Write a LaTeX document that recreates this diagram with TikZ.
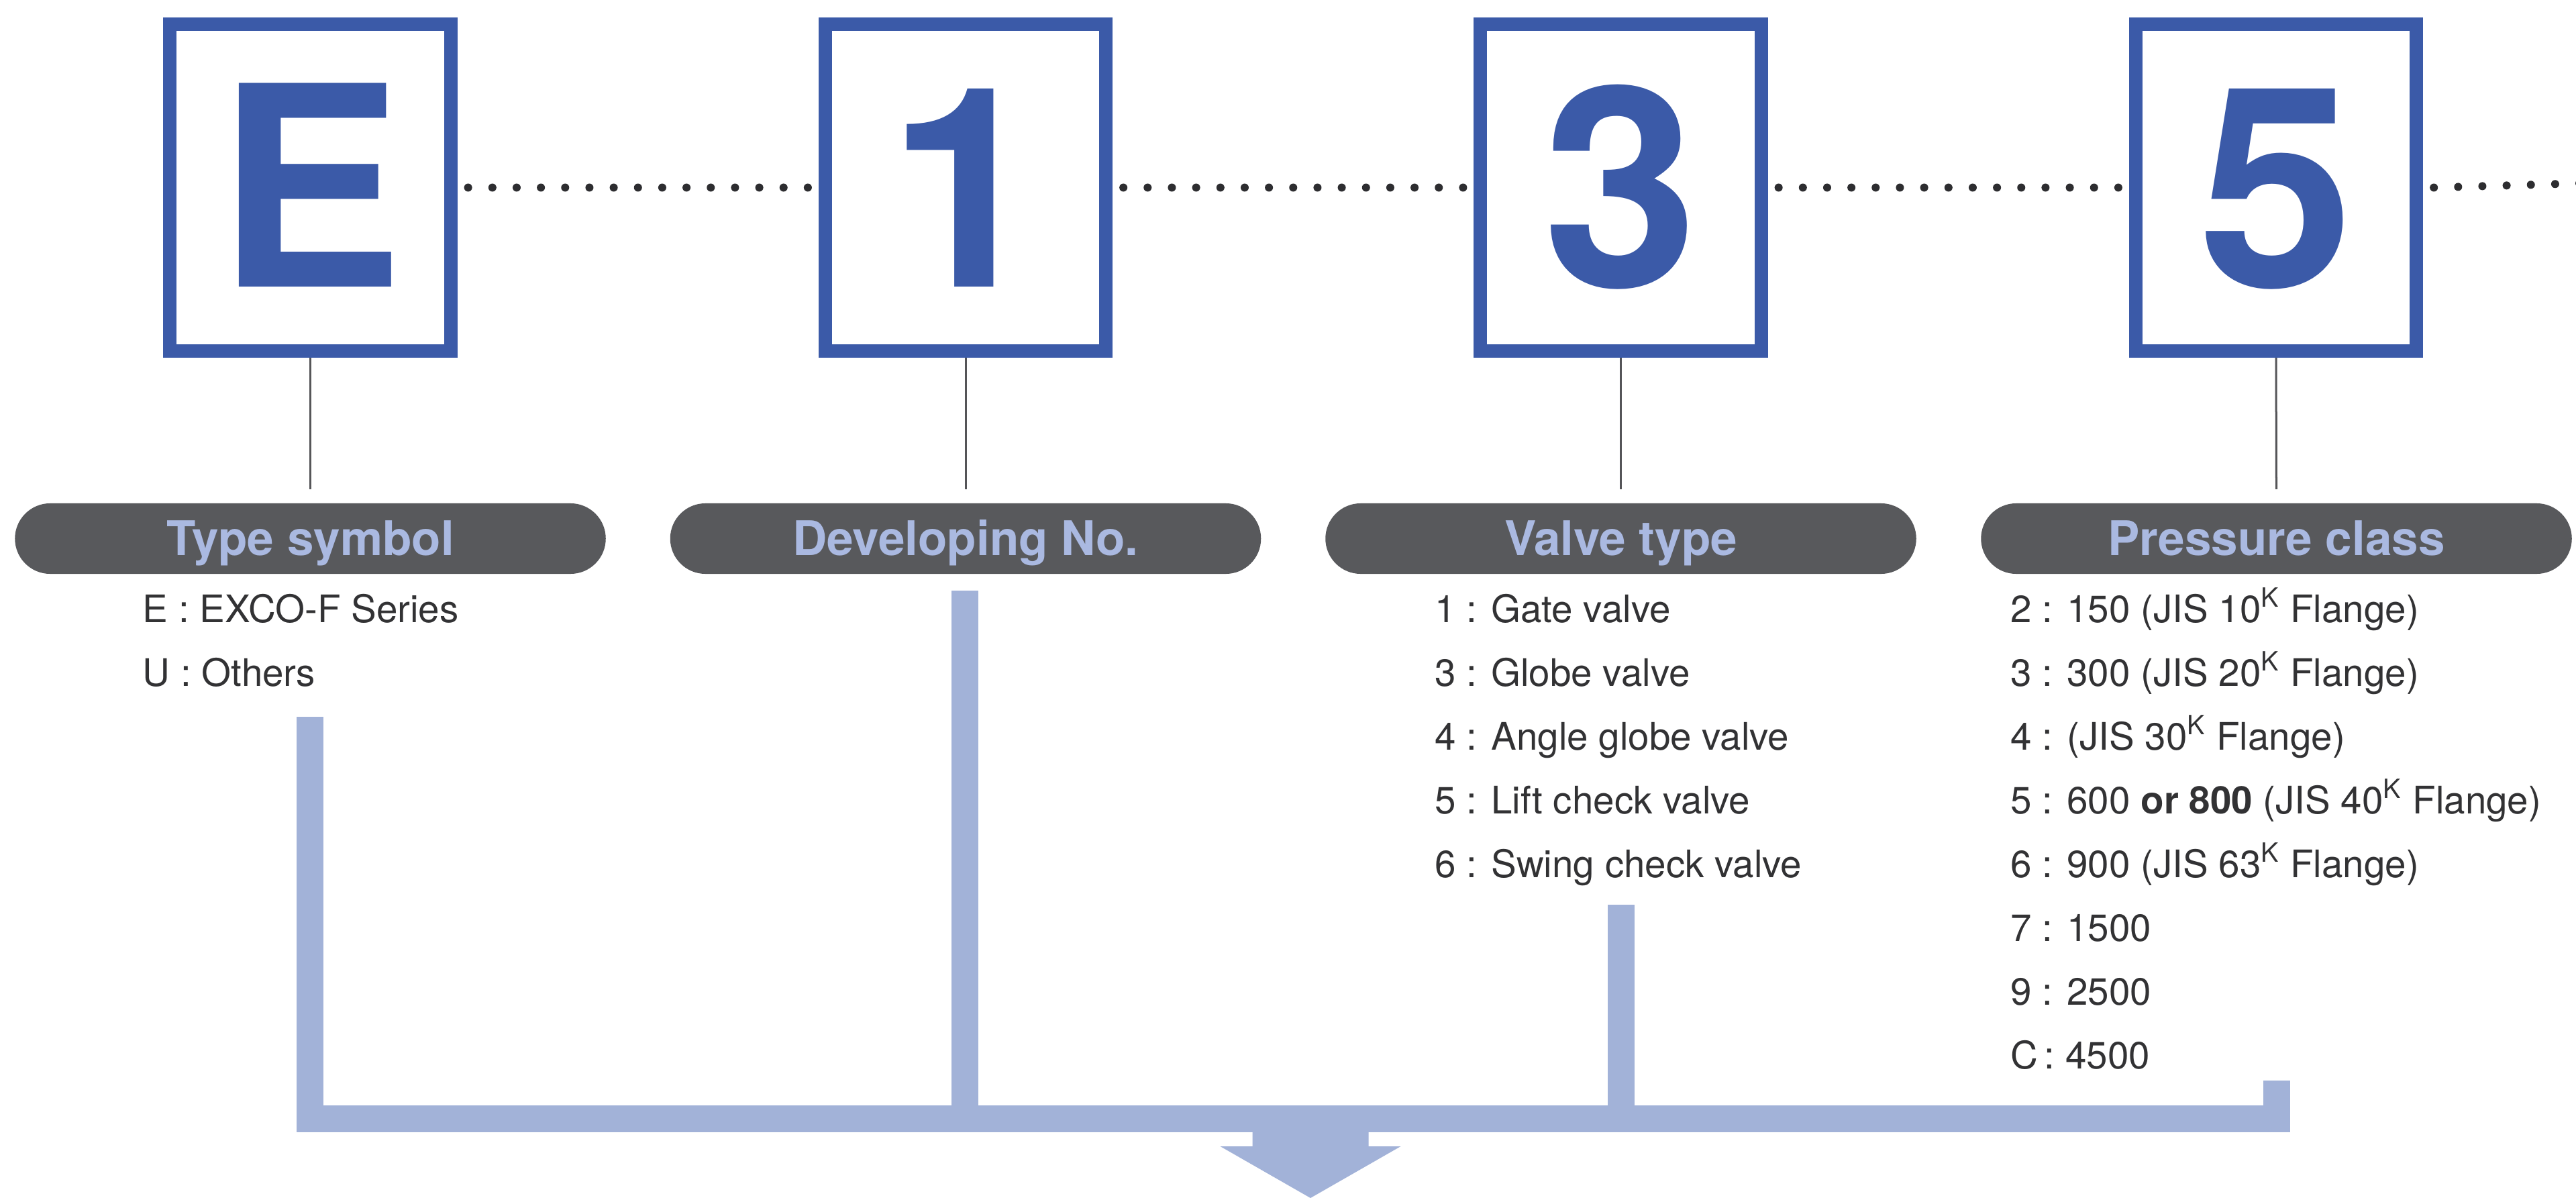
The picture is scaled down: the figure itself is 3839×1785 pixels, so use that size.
\documentclass[tikz,border=0pt]{standalone}
\usepackage{fontspec}
\setmainfont{TeX Gyre Heros}
\definecolor{boxblue}{RGB}{59,90,168}
\definecolor{pillgray}{RGB}{88,89,92}
\definecolor{titleblue}{RGB}{170,185,225}
\definecolor{barblue}{RGB}{162,178,216}
\definecolor{itemgray}{RGB}{50,50,52}
\definecolor{leadgray}{RGB}{85,85,88}
\definecolor{dotgray}{RGB}{45,45,48}
\begin{document}
\begin{tikzpicture}[x=0.01cm,y=-0.01cm,
  codebox/.style={draw=boxblue, line width=0.2cm, outer sep=0.1cm, minimum width=4.18cm, minimum height=4.87cm, inner sep=0pt, fill=white},
  bigchar/.style={anchor=base, text=boxblue, inner sep=0pt, font=\fontsize{118.4}{120}\selectfont\bfseries},
  pill/.style={fill=pillgray, rounded corners=0.525cm, minimum width=8.8cm, minimum height=1.05cm, inner sep=0pt, outer sep=0pt, text=titleblue, font=\fontsize{20.2}{22}\selectfont\bfseries, text height=0.5cm, text depth=0pt},
  item/.style={anchor=base west, inner sep=0pt, text=itemgray, font=\fontsize{16.07}{19}\selectfont},
  lead/.style={draw=leadgray, line width=0.03cm},
  dotline/.style={draw=dotgray, line width=0.12cm, line cap=round, dash pattern=on 0pt off 0.3614cm},
  bar/.style={draw=barblue, line width=0.4cm, line join=miter}
]
\useasboundingbox[fill=white] (0,0) rectangle (3839,1785);

% code boxes
\node[codebox] (bE) at (462.5,279.5) {};
\node[codebox] (b1) at (1439,279.5) {};
\node[codebox] (b3) at (2415.5,279.5) {};
\node[codebox] (b5) at (3392,279.5) {};
\node[bigchar] (cE) at (462.5,427) {E};
\node[bigchar] (c1) at (1439,427) {1};
\node[bigchar] (c3) at (2415.5,427) {3};
\node[bigchar] (c5) at (3392,427) {5};

% dotted links
\coordinate (dend) at (3850,273);
\draw[dotline] ([xshift=0.16cm]bE.east) -- ([xshift=-0.155cm]b1.west);
\draw[dotline] ([xshift=0.16cm]b1.east) -- ([xshift=-0.155cm]b3.west);
\draw[dotline] ([xshift=0.16cm]b3.east) -- ([xshift=-0.155cm]b5.west);
\draw[dotline] ([xshift=0.16cm]b5.east) -- (dend);

% pills
\node[pill] (pE) at (462.5,802.5) {Type symbol};
\node[pill] (p1) at (1439,802.5) {Developing No.};
\node[pill] (p3) at (2415.5,802.5) {Valve type};
\node[pill] (p5) at (3392.5,802.5) {Pressure class};

% leads
\draw[lead] (bE.south) -- ([yshift=0.21cm]pE.north);
\draw[lead] (b1.south) -- ([yshift=0.21cm]p1.north);
\draw[lead] (b3.south) -- ([yshift=0.21cm]p3.north);
\draw[lead] (b5.south) -- ([yshift=0.21cm]p5.north);

% items
\foreach \t [count=\n from 0] in {E : EXCO-F Series, U : Others}
  \node[item] (iE-\n) at (212,{927+95*\n}) {\t};
\foreach \t [count=\n from 0] in {1 : Gate valve, 3 : Globe valve, 4 : Angle globe valve, 5 : Lift check valve, 6 : Swing check valve}
  \node[item] (i3-\n) at (2138,{927+95*\n}) {\t};
\foreach \t [count=\n from 0] in {
  2 : 150 (JIS 10\textsuperscript{K} Flange),
  3 : 300 (JIS 20\textsuperscript{K} Flange),
  4 : (JIS 30\textsuperscript{K} Flange),
  5 : 600 \textbf{or 800} (JIS 40\textsuperscript{K} Flange),
  6 : 900 (JIS 63\textsuperscript{K} Flange),
  7 : 1500, 9 : 2500, C\,: 4500}
  \node[item] (i5-\n) at (2996,{927+95*\n}) {\t};

% collecting bars
\coordinate (tE) at (462,1068);
\coordinate (t1) at (1437.5,880);
\coordinate (t3) at (2415.5,1348);
\coordinate (t5) at (3392.5,1610);
\coordinate (jE) at (462,1667);
\coordinate (j1) at (1437.5,1667);
\coordinate (j3) at (2415.5,1667);
\coordinate (j5) at (3392.5,1667);
\draw[bar] (tE) -- (jE) -- (j5) -- (t5);
\draw[bar] (t1) -- (j1);
\draw[bar] (t3) -- (j3);

% output arrow
\coordinate (tip) at (1953,1785);
\fill[barblue] (1866.5,1680) -- (1866.5,1708) -- (1818.5,1708) -- (tip) -- (2087.5,1708) -- (2039.5,1708) -- (2039.5,1680) -- cycle;
\end{tikzpicture}
\end{document}
